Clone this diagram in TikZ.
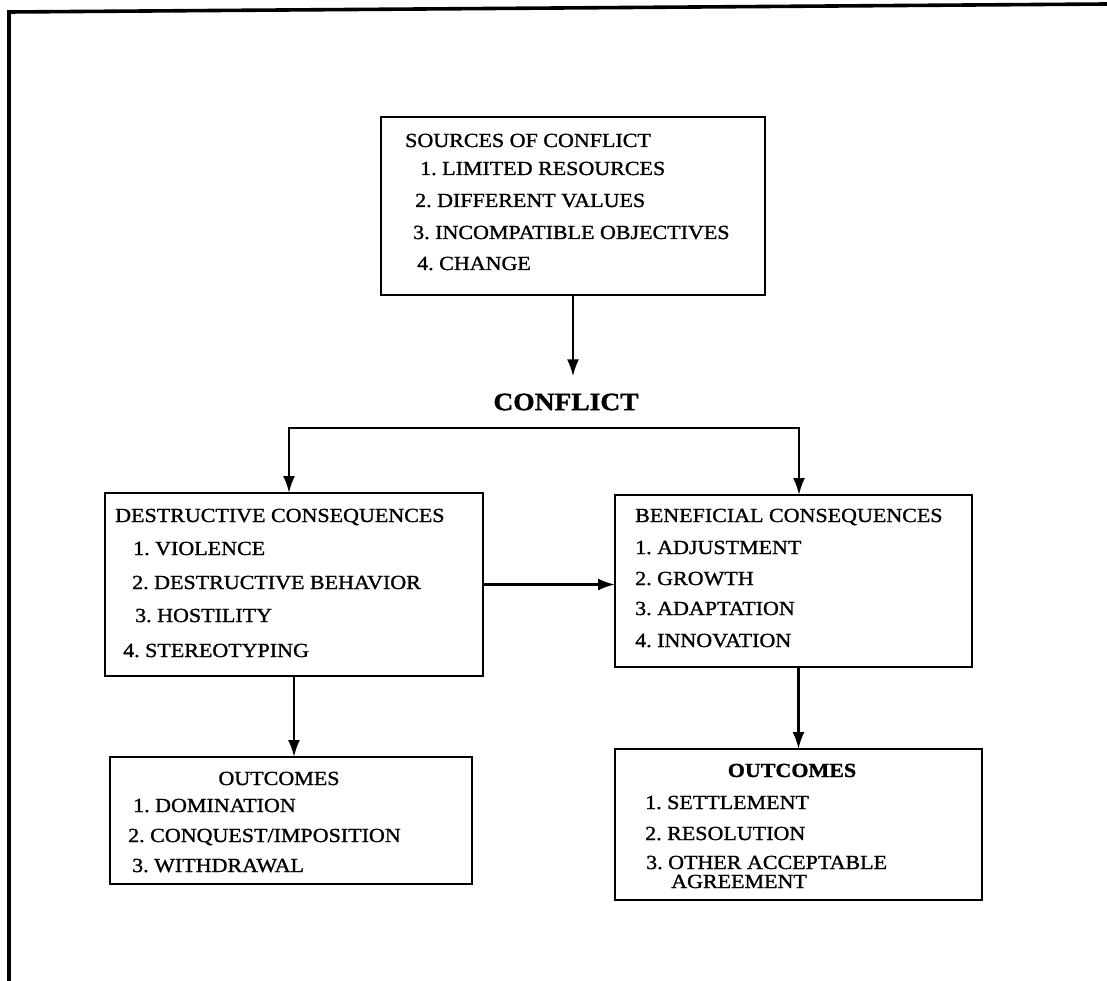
\documentclass[tikz,border=0pt]{standalone}
\usepackage{fontspec}
\setmainfont[FakeStretch=1.1,FakeBold=1.2]{Liberation Serif}
\usetikzlibrary{arrows.meta}
\frenchspacing
\begin{document}
\begin{tikzpicture}[x=1pt,y=-1pt,
  box/.style={draw, line width=2.2pt, inner sep=0pt, outer sep=0pt},
  txt/.style={anchor=base west, inner sep=0pt, font=\fontsize{20}{24}\selectfont},
  ctxt/.style={anchor=base, inner sep=0pt, font=\fontsize{20}{24}\selectfont},
  arr/.style={line width=2.4pt, -{Latex[length=17pt,width=12pt]}},
  twoarr/.style={line width=2.4pt, {Latex[length=17pt,width=12pt]}-{Latex[length=17pt,width=12pt]}}]
\useasboundingbox (0,0) rectangle (1107,981);

% page frame (top and left edges)
\draw[line width=3.6pt] (9,981) -- (9,12) -- (1107,4);

% boxes
\node[box, minimum width=384pt, minimum height=178pt] (src)  at (573,206) {};
\node[box, minimum width=378pt, minimum height=183pt] (des)  at (294,584.5) {};
\node[box, minimum width=357pt, minimum height=172pt] (ben)  at (793.5,581) {};
\node[box, minimum width=362pt, minimum height=127pt] (outL) at (291,820.5) {};
\node[box, minimum width=367pt, minimum height=151pt] (outR) at (798.5,824.5) {};

% central label
\node[font=\bfseries\fontsize{25}{30}\selectfont, inner xsep=2pt, inner ysep=17pt] (conf) at (566,402) {CONFLICT};

% sources of conflict
\node[txt] (s0) at (405,147) {SOURCES OF CONFLICT};
\node[txt] (s1) at (420,175) {1. LIMITED RESOURCES};
\node[txt] (s2) at (415,207) {2. DIFFERENT VALUES};
\node[txt] (s3) at (413,239) {3. INCOMPATIBLE OBJECTIVES};
\node[txt] (s4) at (417,270) {4. CHANGE};

% destructive consequences
\node[txt] (d0) at (115,522) {DESTRUCTIVE CONSEQUENCES};
\node[txt] (d1) at (133,555) {1. VIOLENCE};
\node[txt] (d2) at (132,589) {2. DESTRUCTIVE BEHAVIOR};
\node[txt] (d3) at (135,622) {3. HOSTILITY};
\node[txt] (d4) at (123,657) {4. STEREOTYPING};

% beneficial consequences
\node[txt] (b0) at (635,522) {BENEFICIAL CONSEQUENCES};
\node[txt] (b1) at (635,554) {1. ADJUSTMENT};
\node[txt] (b2) at (635,585) {2. GROWTH};
\node[txt] (b3) at (635,615) {3. ADAPTATION};
\node[txt] (b4) at (635,647) {4. INNOVATION};

% outcomes of destructive conflict
\node[ctxt] (l0) at (279,785) {OUTCOMES};
\node[txt] (l1) at (133,812) {1. DOMINATION};
\node[txt] (l2) at (128,842) {2. CONQUEST/IMPOSITION};
\node[txt] (l3) at (132,872) {3. WITHDRAWAL};

% outcomes of beneficial conflict
\node[ctxt] (r0) at (792,777) {\bfseries OUTCOMES};
\node[txt] (r1) at (645,809) {1. SETTLEMENT};
\node[txt] (r2) at (645,840) {2. RESOLUTION};
\node[txt] (r3) at (646,869) {3. OTHER ACCEPTABLE};
\node[txt] (r4) at (671,888) {AGREEMENT};

% connectors
\coordinate (jl) at (289,428);
\coordinate (jr) at (799,428);
\draw[arr] (src.south) -- (src.south |- conf.north);
\draw[twoarr] (jl |- des.north) -- (jl) -- (jr) -- (jr |- ben.north);
\draw[arr] (des.east) -- (des.east -| ben.west);
\draw[arr] (des.south) -- (des.south |- outL.north);
\draw[arr] (outR.north |- ben.south) -- (outR.north);
\end{tikzpicture}
\end{document}
